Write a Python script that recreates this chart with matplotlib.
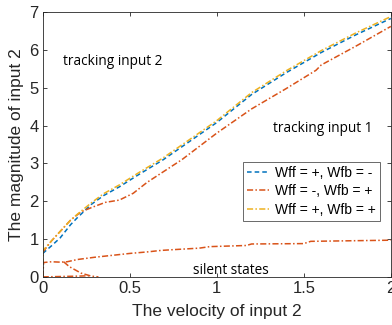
import numpy as np
import matplotlib
matplotlib.use('Agg')
import matplotlib.pyplot as plt

# curve values
blue_x = [0, 0.05, 0.1, 0.16, 0.2, 0.28, 0.35, 0.44, 0.55, 0.69, 0.85, 1.0, 1.2, 1.4, 1.6, 1.8, 2.0]
blue_y = [0.62, 0.82, 1.03, 1.38, 1.57, 1.92, 2.15, 2.38, 2.70, 3.09, 3.60, 4.08, 4.82, 5.40, 5.93, 6.40, 6.83]

yel_x = [0, 0.002, 0.05, 0.1, 0.16, 0.2, 0.28, 0.35, 0.44, 0.55, 0.69, 0.85, 1.0, 1.2, 1.4, 1.6, 1.8, 2.0]
yel_y = [0, 0.70, 0.95, 1.20, 1.50, 1.66, 1.96, 2.20, 2.43, 2.75, 3.14, 3.65, 4.13, 4.87, 5.45, 5.98, 6.45, 6.88]

org_up_x = [0, 0.05, 0.1, 0.16, 0.22, 0.29, 0.36, 0.44, 0.52, 0.6, 0.7, 0.8, 0.9, 1.0, 1.1, 1.2, 1.4, 1.57, 1.6, 1.8, 2.0]
org_up_y = [0.65, 0.95, 1.20, 1.50, 1.72, 1.85, 1.97, 2.03, 2.21, 2.50, 2.80, 3.10, 3.45, 3.80, 4.12, 4.44, 4.98, 5.46, 5.60, 6.10, 6.62]

org_mid_x = [0, 0.005, 0.05, 0.1, 0.14, 0.2, 0.3, 0.4, 0.5, 0.6, 0.68, 0.75, 0.9, 0.96, 1.17, 1.2, 1.5, 1.54, 2.0]
org_mid_y = [0.0, 0.38, 0.40, 0.39, 0.40, 0.46, 0.52, 0.57, 0.62, 0.66, 0.70, 0.72, 0.76, 0.80, 0.83, 0.87, 0.88, 0.94, 0.97]

org_dec_x = [0.12, 0.153, 0.22, 0.28, 0.32]
org_dec_y = [0.40, 0.27, 0.10, 0.02, 0.0]

org_low_x = [0, 0.1, 0.2, 0.27]
org_low_y = [0.0, 0.01, 0.02, 0.03]

c_blue = (0, 0.447, 0.741)
c_org = (0.850, 0.325, 0.098)
c_yel = (0.929, 0.694, 0.125)

plt.rcParams['font.family'] = ['Liberation Sans', 'DejaVu Sans']

fig = plt.figure(figsize=(3.92, 3.25), dpi=100)
ax = fig.add_axes([0.109, 0.148, 0.888, 0.815])

lw = 1.1
dd = (4, 1.5, 1, 1.5)
ax.plot(blue_x, blue_y, '--', color=c_blue, lw=lw, dashes=(3, 2), label='Wff = +, Wfb = -')
ax.plot(org_up_x, org_up_y, '-.', color=c_org, lw=lw, dashes=dd, label='Wff = -, Wfb = +')
ax.plot(yel_x, yel_y, '-.', color=c_yel, lw=lw, dashes=dd, label='Wff = +, Wfb = +')
ax.plot(org_mid_x, org_mid_y, '-.', color=c_org, lw=lw, dashes=dd)
ax.plot(org_dec_x, org_dec_y, '-.', color=c_org, lw=lw, dashes=dd)
ax.plot(org_low_x, org_low_y, '-.', color=c_org, lw=lw, dashes=dd)

ax.set_xlim(0, 2)
ax.set_ylim(0, 7)
ax.set_xticks([0, 0.5, 1, 1.5, 2])
ax.set_xticklabels(['0', '0.5', '1', '1.5', '2'])
ax.set_yticks(range(8))

axc = (0.15, 0.15, 0.15)
for s in ax.spines.values():
    s.set_color(axc)
    s.set_linewidth(0.6)
ax.tick_params(direction='in', top=True, right=True, length=3, width=0.6, color=axc,
               labelcolor=axc, labelsize=12, pad=3)
ax.set_xlabel('The velocity of input 2', fontsize=12.5, labelpad=6, color=axc)
ax.set_ylabel('The magnitude of input 2', fontsize=12.5, labelpad=4, color=axc)

tf = ['Open Sans', 'DejaVu Sans']
ax.text(0.404, 5.70, 'tracking input 2', fontsize=9.8, family=tf, ha='center', va='center')
ax.text(1.609, 3.92, 'tracking input 1', fontsize=9.8, family=tf, ha='center', va='center')
ax.text(1.083, 0.18, 'silent states', fontsize=9.8, family=tf, ha='center', va='center')

leg = ax.legend(loc='upper left', bbox_to_anchor=(243 / 392, 1 - 162 / 325),
                bbox_transform=fig.transFigure, fontsize=10, frameon=True, fancybox=False,
                handlelength=1.6, handletextpad=0.4, borderpad=0.3, labelspacing=0.3,
                borderaxespad=0)
leg.get_frame().set_edgecolor(axc)
leg.get_frame().set_linewidth(0.6)

fig.savefig('out.png', dpi=100)
